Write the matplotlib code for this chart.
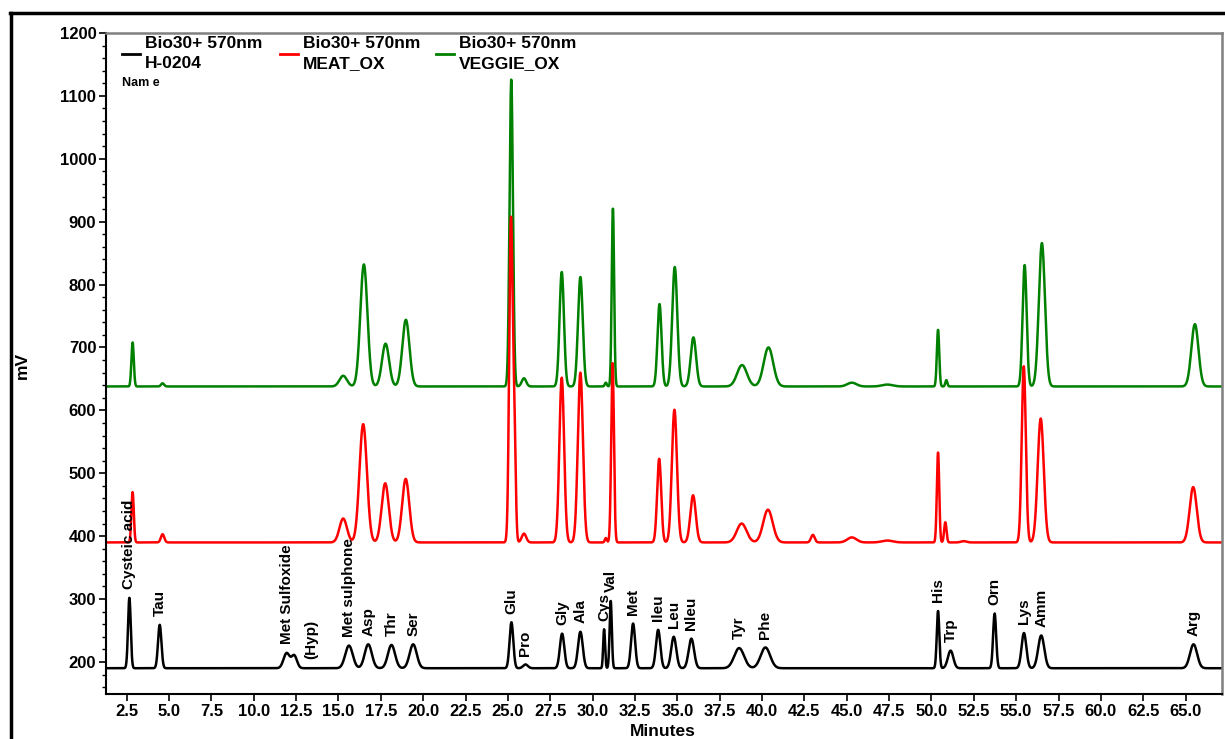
import numpy as np
import matplotlib
matplotlib.use("Agg")
import matplotlib.pyplot as plt
from matplotlib.lines import Line2D

plt.rcParams['font.family'] = ['Liberation Sans', 'DejaVu Sans']
plt.rcParams['font.weight'] = 'bold'

# peak tables: retention time (min), apex (mV), width (min)
black_base = 190
black_rt = [2.66, 4.45, 11.94, 12.39, 15.62, 16.76, 18.13, 19.41, 25.21, 26.04,
            28.2, 29.28, 30.68, 31.07, 32.39, 33.87, 34.79, 35.83, 38.65, 40.2,
            50.39, 51.13, 53.73, 55.46, 56.48, 65.47]
black_apex = [302, 259, 214, 210, 226, 228, 227, 228, 263, 196,
              245, 248, 252, 297, 261, 251, 240, 237, 222, 223,
              281, 218, 277, 246, 242, 228]
black_w = [0.08, 0.1, 0.18, 0.16, 0.22, 0.21, 0.21, 0.21, 0.11, 0.14,
           0.13, 0.14, 0.055, 0.065, 0.12, 0.13, 0.15, 0.16, 0.29, 0.28,
           0.075, 0.16, 0.09, 0.14, 0.18, 0.21]

red_base = 390
red_rt = [2.85, 4.62, 15.28, 16.46, 17.76, 18.97, 25.18, 25.38, 25.95, 28.18,
          29.28, 30.78, 31.18, 33.93, 34.83, 35.93, 38.8, 40.35, 43.0, 45.3,
          47.4, 50.39, 50.82, 51.9, 55.45, 56.45, 65.45]
red_apex = [470, 403, 428, 578, 484, 491, 900, 560, 404, 652,
            660, 397, 675, 523, 601, 465, 420, 442, 402, 398,
            393, 533, 422, 392, 670, 587, 478]
red_w = [0.07, 0.1, 0.22, 0.22, 0.21, 0.21, 0.1, 0.08, 0.13, 0.14,
         0.15, 0.06, 0.08, 0.12, 0.15, 0.16, 0.29, 0.28, 0.11, 0.27,
         0.32, 0.07, 0.07, 0.16, 0.12, 0.18, 0.21]

green_base = 638
green_rt = [2.85, 4.62, 15.28, 16.5, 17.78, 18.98, 25.2, 25.95, 28.18, 29.28,
            30.78, 31.2, 33.95, 34.85, 35.95, 38.82, 40.38, 45.3, 47.4, 50.39,
            50.88, 55.5, 56.52, 65.55]
green_apex = [708, 643, 655, 832, 706, 744, 1126, 651, 820, 812,
              644, 921, 769, 828, 716, 672, 700, 644, 641, 728,
              648, 831, 866, 737]
green_w = [0.07, 0.09, 0.22, 0.21, 0.21, 0.21, 0.1, 0.13, 0.13, 0.14,
           0.06, 0.07, 0.12, 0.15, 0.16, 0.29, 0.28, 0.27, 0.32, 0.07,
           0.06, 0.12, 0.18, 0.21]

peak_names = ['Cysteic acid', 'Tau', 'Met Sulfoxide', '(Hyp)', 'Met sulphone', 'Asp',
              'Thr', 'Ser', 'Glu', 'Pro', 'Gly', 'Ala', 'Cys', 'Val', 'Met', 'Ileu',
              'Leu', 'Nleu', 'Tyr', 'Phe', 'His', 'Trp', 'Orn', 'Lys', 'Amm', 'Arg']
label_rt = [2.66, 4.45, 11.94, 13.4, 15.62, 16.76, 18.13, 19.41, 25.21, 26.04,
            28.2, 29.28, 30.68, 31.07, 32.39, 33.87, 34.79, 35.83, 38.65, 40.2,
            50.39, 51.13, 53.73, 55.46, 56.48, 65.47]

legend_top = ['Bio30+ 570nm', 'Bio30+ 570nm', 'Bio30+ 570nm']
legend_bottom = ['H-0204', 'MEAT_OX', 'VEGGIE_OX']
colors = ['black', '#ff0000', '#008000']


def trace(t, base, rt, apex, w):
    y = np.full_like(t, float(base))
    for r, a, s in zip(rt, apex, w):
        y += (a - base) * np.exp(-0.5 * ((t - r) / s) ** 2)
    return y


W, H = 1225, 739
fig = plt.figure(figsize=(W / 100, H / 100), dpi=100)
ax = fig.add_axes([106 / W, 1 - 694 / H, (1222 - 106) / W, (694 - 33) / H])

t = np.linspace(1.2, 67.3, 8000)
y_black = trace(t, black_base, black_rt, black_apex, black_w)
y_red = trace(t, red_base, red_rt, red_apex, red_w)
y_green = trace(t, green_base, green_rt, green_apex, green_w)

ax.plot(t, y_green, color=colors[2], lw=1.8)
ax.plot(t, y_red, color=colors[1], lw=1.8)
ax.plot(t, y_black, color=colors[0], lw=1.8)

for name, r in zip(peak_names, label_rt):
    yv = np.interp(r, t, y_black)
    ax.text(r, yv + 14, name, rotation=90, ha='center', va='bottom',
            fontsize=11, fontweight='bold')

ax.set_xlim(1.28, 67.15)
ax.set_ylim(149, 1200)
ax.set_xticks(np.arange(2.5, 66, 2.5))
ax.set_xticklabels([f'{v:.1f}' for v in np.arange(2.5, 66, 2.5)])
ax.set_yticks(np.arange(200, 1201, 100))
ax.set_yticks(np.arange(160, 1200, 20), minor=True)
ax.tick_params(axis='both', labelsize=12, width=1.2, length=5, pad=2)
ax.tick_params(axis='y', which='minor', length=3, width=1)
for lab in ax.get_xticklabels() + ax.get_yticklabels():
    lab.set_fontweight('bold')

for side in ['left', 'bottom']:
    ax.spines[side].set_color('black')
    ax.spines[side].set_linewidth(1.5)
for side in ['top', 'right']:
    ax.spines[side].set_color('#808080')
    ax.spines[side].set_linewidth(1.8)

# legend block
leg_x = [122, 280, 436]
for lx, c, top, bot in zip(leg_x, colors, legend_top, legend_bottom):
    fig.add_artist(Line2D([lx / W, (lx + 18) / W], [1 - 54 / H, 1 - 54 / H],
                          color=c, lw=2))
    fig.text((lx + 23) / W, 1 - 44 / H, top, fontsize=12.5, fontweight='bold', va='center')
    fig.text((lx + 23) / W, 1 - 64 / H, bot, fontsize=12.5, fontweight='bold', va='center')
fig.text(122 / W, 1 - 83 / H, 'Nam e', fontsize=9, fontweight='bold', va='center')

fig.text(22 / W, 1 - 365 / H, 'mV', rotation=90, fontsize=12.5, fontweight='bold',
         ha='center', va='center')
fig.text(663 / W, 1 - 731 / H, 'Minutes', fontsize=12.5, fontweight='bold',
         ha='center', va='center')

# outer frame
fig.add_artist(Line2D([10 / W, 1], [1 - 13 / H, 1 - 13 / H], color='black', lw=2.5))
fig.add_artist(Line2D([11 / W, 11 / W], [0, 1 - 13 / H], color='black', lw=2.5))

fig.savefig('out.png', dpi=100)
